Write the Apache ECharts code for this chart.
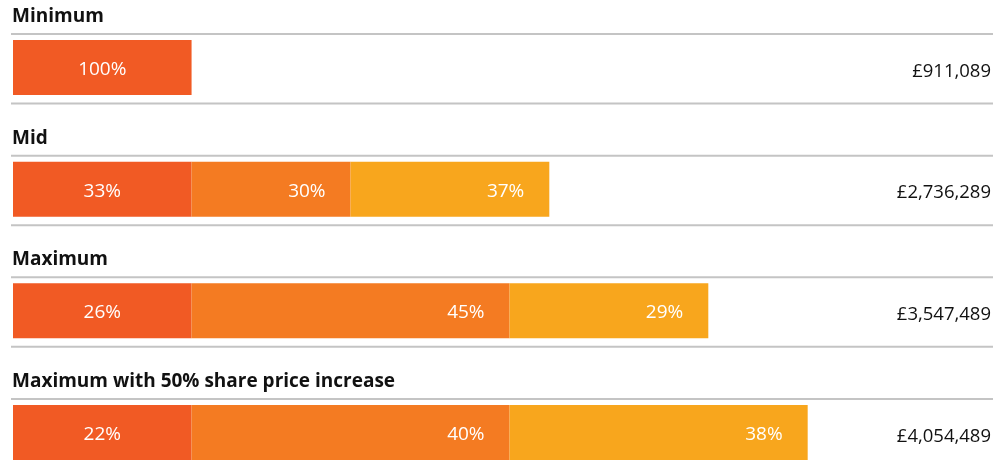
<!DOCTYPE html>
<html>
<head>
<meta charset="utf-8">
<script src="https://cdn.jsdelivr.net/npm/echarts@6/dist/echarts.min.js"></script>
<style>
html,body{margin:0;padding:0;background:#fff;}
#chart{width:993px;height:462px;}
</style>
</head>
<body>
<div id="chart"></div>
<script>
// ---- data ----
const categories = ['Minimum', 'Mid', 'Maximum', 'Maximum with 50% share price increase'];
const fixedPay = [911089, 911089, 911089, 911089];
const annualBonus = [0, 811200, 1622400, 1622400];
const ltip = [0, 1014000, 1014000, 1521000];
const fixedPct = ['100%', '33%', '26%', '22%'];
const bonusPct = ['', '30%', '45%', '40%'];
const ltipPct = ['', '37%', '29%', '38%'];
const totals = categories.map((c, i) => fixedPay[i] + annualBonus[i] + ltip[i]);

const colors = ['#F15A24', '#F47B22', '#F8A61D'];
const FONT = '"Open Sans", sans-serif';

const chart = echarts.init(document.getElementById('chart'), null, {renderer: 'canvas'});

function labelCfg(arr, pos) {
  return {
    show: true,
    position: pos,
    distance: 25,
    offset: [0, 2],
    color: '#fff',
    fontFamily: FONT,
    fontSize: 19,
    formatter: p => arr[p.dataIndex]
  };
}

const option = {
  animation: false,
  grid: {left: 13, top: 67.5, width: 984, height: 365},
  xAxis: {type: 'value', min: 0, max: 5000000, show: false},
  yAxis: {type: 'category', data: categories, inverse: true, boundaryGap: false, show: false},
  series: [
    {
      type: 'custom',
      clip: false,
      z: 1,
      data: categories.map((c, i) => [0, i]),
      renderItem: function (params, api) {
        const i = params.dataIndex;
        const p = api.coord([0, i]);
        const y = p[1];
        const x0 = p[0] - 2;
        const lineStyle = {stroke: '#c4c4c4', lineWidth: 2};
        return {
          type: 'group',
          children: [
            {type: 'line', shape: {x1: x0, y1: y - 33.5, x2: 993, y2: y - 33.5}, style: lineStyle},
            {type: 'line', shape: {x1: x0, y1: y + 36, x2: 993, y2: y + 36}, style: lineStyle},
            {type: 'text', x: p[0] - 1, y: y - 51, style: {
              text: categories[i], fill: '#111', font: 'bold 19px ' + FONT,
              textAlign: 'left', textVerticalAlign: 'middle'}},
            {type: 'text', x: 991, y: y + 4, style: {
              text: '£' + totals[i].toLocaleString('en-GB'), fill: '#111', font: '18.5px ' + FONT,
              textAlign: 'right', textVerticalAlign: 'middle'}}
          ]
        };
      }
    },
    {
      name: 'Fixed pay', type: 'bar', stack: 'total', barWidth: 55,
      itemStyle: {color: colors[0]}, data: fixedPay,
      label: labelCfg(fixedPct, 'inside')
    },
    {
      name: 'Annual bonus', type: 'bar', stack: 'total', barWidth: 55,
      itemStyle: {color: colors[1]}, data: annualBonus,
      label: labelCfg(bonusPct, 'insideRight')
    },
    {
      name: 'LTIP', type: 'bar', stack: 'total', barWidth: 55,
      itemStyle: {color: colors[2]}, data: ltip,
      label: labelCfg(ltipPct, 'insideRight')
    }
  ]
};
chart.setOption(option);
</script>
</body>
</html>
